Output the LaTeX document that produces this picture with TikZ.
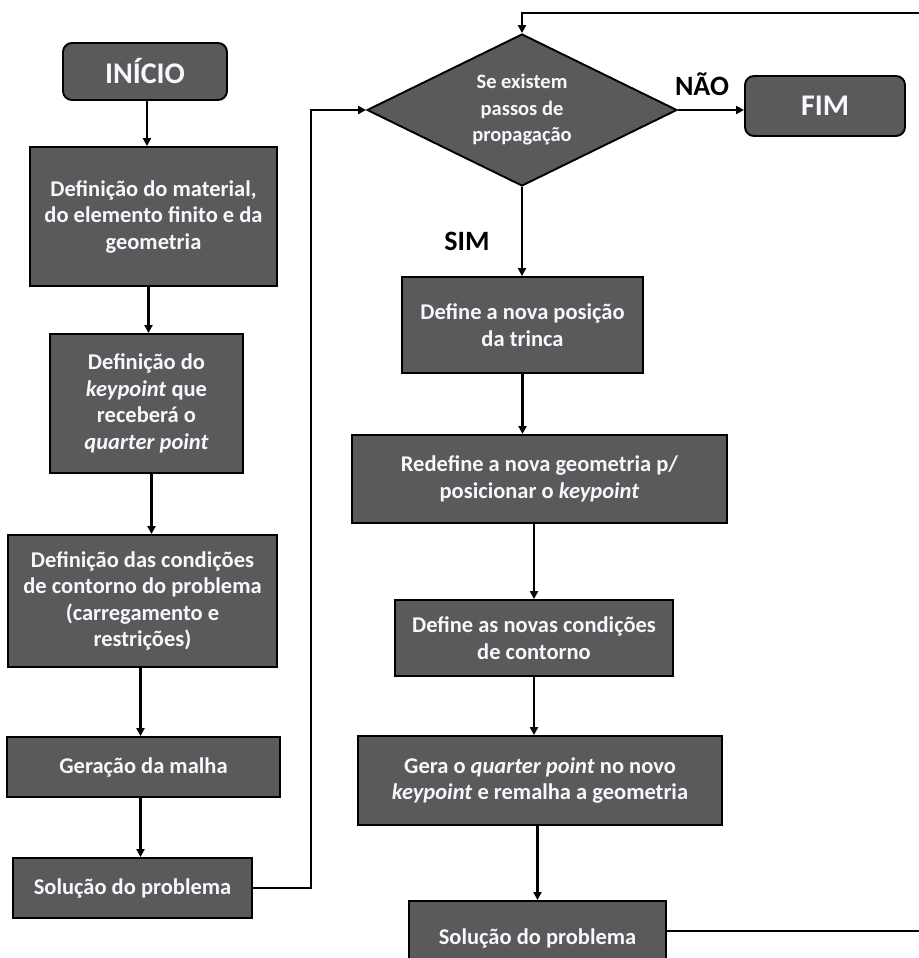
\documentclass[tikz,border=0pt]{standalone}
\usepackage{fontspec}
\setmainfont{Carlito}
\usetikzlibrary{shapes.geometric,arrows.meta,calc}
\definecolor{boxgray}{HTML}{5A5A5A}
\definecolor{boxtext}{HTML}{F6F8FF}
\begin{document}
\begin{tikzpicture}[x=1pt,y=-1pt,
 procbox/.style={draw=black, line width=1.9pt, fill=boxgray, text=boxtext,
   font=\bfseries\fontsize{22.5}{26.5}\selectfont, align=center, inner sep=0pt},
 termbox/.style={procbox, rounded corners=9pt, font=\bfseries\fontsize{30}{34}\selectfont},
 decision/.style={diamond, shape aspect=2, draw=black, line width=1.9pt, fill=boxgray, text=boxtext,
   font=\bfseries\fontsize{20.5}{26.5}\selectfont, align=center, inner sep=0pt},
 flow/.style={draw=black, line width=2.2pt, -{Triangle[length=8pt,width=8pt]}},
 lbl/.style={font=\bfseries\fontsize{28}{32}\selectfont, text=black, inner sep=0pt}]
\useasboundingbox (0,0) rectangle (918,958);

% left column
\node[termbox, minimum width=164pt, minimum height=57pt] (start) at (145,71.5) {INÍCIO};
\node[procbox, minimum width=247pt, minimum height=139pt] (b1) at (153.5,216.5)
  {Definição do material,\\ do elemento finito e da\\ geometria};
\node[procbox, minimum width=193pt, minimum height=139pt] (b2) at (146.5,403.5)
  {Definição do\\ \textit{keypoint} que\\ receberá o\\ \textit{quarter point}};
\node[procbox, minimum width=269pt, minimum height=132pt] (b3) at (142.5,601)
  {Definição das condições\\ de contorno do problema\\ (carregamento e\\ restrições)};
\node[procbox, minimum width=273pt, minimum height=60pt] (b4) at (143.5,767) {Geração da malha};
\node[procbox, minimum width=239pt, minimum height=60pt] (b5) at (132.5,888) {Solução do problema};

% right column
\node[decision, minimum width=310pt, minimum height=152pt] (dec) at (522,110)
  {Se existem\\ passos de\\ propagação};
\node[termbox, minimum width=160pt, minimum height=60pt] (fim) at (825,106) {FIM};
\node[lbl] (nao) at (702,84) {NÃO};
\node[lbl] (sim) at (467,241) {SIM};
\node[procbox, minimum width=241pt, minimum height=96pt] (r1) at (522.5,325)
  {Define a nova posição\\ da trinca};
\node[procbox, minimum width=375pt, minimum height=88pt] (r2) at (539.5,479)
  {Redefine a nova geometria p/\\ posicionar o \textit{keypoint}};
\node[procbox, minimum width=278pt, minimum height=76pt] (r3) at (534,638)
  {Define as novas condições\\ de contorno};
\node[procbox, minimum width=364pt, minimum height=89pt] (r4) at (540,780.5)
  {Gera o \textit{quarter point} no novo\\ \textit{keypoint} e remalha a geometria};
\node[procbox, minimum width=257pt, minimum height=74pt] (r5) at (537.5,938) {Solução do problema};

% connectors
\draw[flow] ([xshift=2pt]start.south) -- ([xshift=2pt]start.south |- b1.north);
\draw[flow] ([xshift=-5pt]b1.south) -- ([xshift=-5pt]b1.south |- b2.north);
\draw[flow] ([xshift=5pt]b2.south) -- ([xshift=5pt]b2.south |- b3.north);
\draw[flow] ([xshift=-2pt]b3.south) -- ([xshift=-2pt]b3.south |- b4.north);
\draw[flow] ([xshift=-3pt]b4.south) -- ([xshift=-3pt]b4.south |- b5.north);
\coordinate (lp) at (311,888);
\draw[flow] (b5.east) -- (lp) |- (dec.west);
\draw[flow] (dec.east) -- (dec.east -| fim.west);
\draw[flow] (dec.south) -- (dec.south |- r1.north);
\draw[flow] (r1.south) -- (r1.south |- r2.north);
\draw[flow] (r3.north |- r2.south) -- (r3.north);
\draw[flow] (r3.south) -- (r3.south |- r4.north);
\draw[flow] (r5.north |- r4.south) -- (r5.north);
\coordinate (fb1) at (926,931);
\coordinate (fb2) at (926,13);
\draw[flow] ([yshift=7pt]r5.east) -- (fb1) -- (fb2) -| (dec.north);
\end{tikzpicture}
\end{document}
